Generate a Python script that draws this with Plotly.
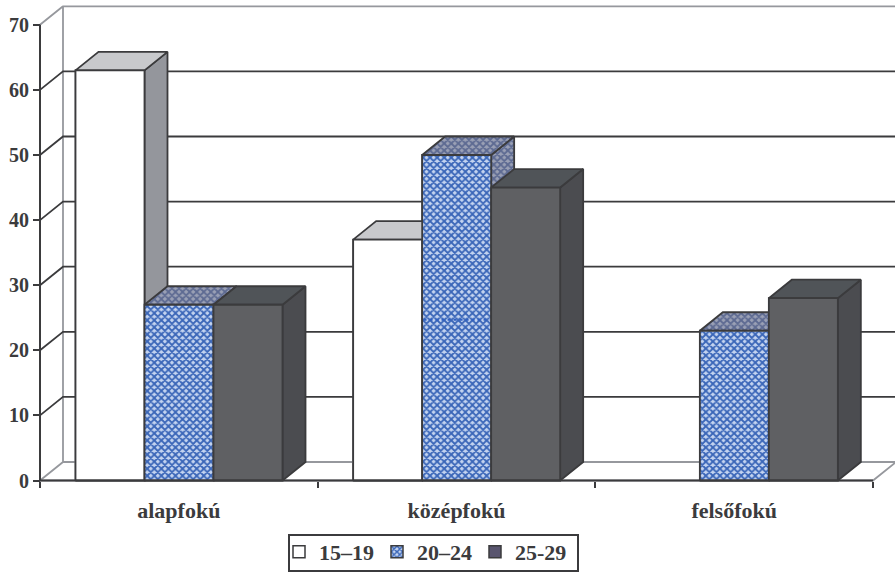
import plotly.graph_objects as go

categories = ["alapfokú", "középfokú", "felsőfokú"]
series_names = ["15–19", "20–24", "25-29"]
values_1519 = [63, 37, None]
values_2024 = [27, 50, 23]
values_2529 = [27, 45, 28]
y_ticks = [0, 10, 20, 30, 40, 50, 60, 70]
artefact_value = 24.7

W, H = 895, 572
PX_CAT = 277.67
PX_UNIT = 6.51
X0_PX, Y0_PX = 40, 480.5
DX = 23 / PX_CAT
DY = 18.5 / PX_UNIT
GAP = 35.5 / PX_CAT
BW = 69 / PX_CAT
INK = "#3b3b3d"
GREY = "#96989d"

def pat(fg, bg):
    return dict(shape="x", fgcolor=fg, bgcolor=bg, size=5, solidity=0.6, fillmode="replace")

styles = [
    dict(front="#ffffff", top="#c8c9cc", side="#94969c"),
    dict(front=pat("#3a66b8", "#c4d4f0"), top=pat("#5d6a92", "#9aa0b5"), side=pat("#5d6a92", "#9aa0b5")),
    dict(front="#5f6063", top="#505458", side="#4b4c50"),
]

fig = go.Figure()

legend_fill = [dict(color="#ffffff"), dict(color="#c4d4f0", pattern=pat("#3a66b8", "#c4d4f0")), dict(color="#59556f")]
for j, (name, vals) in enumerate(zip(series_names, [values_1519, values_2024, values_2529])):
    fig.add_trace(go.Bar(
        x=[i for i in range(3)], y=vals, name=name,
        width=BW, offset=GAP + j * BW,
        marker=dict(**legend_fill[j], line=dict(color=INK, width=1.5)),
        hoverinfo="skip",
    ))

def line(xs, ys, color=INK, width=1.8, dash=None):
    fig.add_trace(go.Scatter(x=xs, y=ys, mode="lines", showlegend=False, hoverinfo="skip",
                             line=dict(color=color, width=width, dash=dash)))

def face(xs, ys, fill):
    kw = dict(fillpattern=fill, fillcolor=fill["bgcolor"]) if isinstance(fill, dict) else dict(fillcolor=fill)
    fig.add_trace(go.Scatter(x=xs, y=ys, mode="lines", fill="toself", showlegend=False, hoverinfo="skip",
                             line=dict(color=INK, width=1.8), **kw))

top = y_ticks[-1]
n = len(categories)
line([0, DX, DX, 0], [top, top + DY, DY, 0], GREY, 1.8)
line([DX, n + DX, n, 0], [DY, DY, 0, 0], GREY, 1.8)
line([DX, n + DX + 1], [top + DY, top + DY], GREY, 1.8)
for t in y_ticks[1:-1]:
    line([0, DX, n + DX + 1], [t, t + DY, t + DY], INK, 1.8)

for i in range(n):
    for j, vals in enumerate([values_1519, values_2024, values_2529]):
        v = vals[i]
        if v is None:
            continue
        a = i + GAP + j * BW
        b = a + BW
        st = styles[j]
        face([b, b + DX, b + DX, b, b], [0, DY, v + DY, v, 0], st["side"])
        face([a, a + DX, b + DX, b, a], [v, v + DY, v + DY, v, v], st["top"])
        face([a, b, b, a, a], [0, 0, v, v, 0], st["front"])

a = 1 + GAP + BW
line([a + 0.005, a + BW - 0.005], [artefact_value, artefact_value], "#2f5fc0", 2, "dot")

line([0, 0], [0, top], INK, 2)
line([0, n], [0, 0], INK, 2)

L_PX, B_PX, T_PX = 27, 490, 2
fig.update_layout(
    width=W, height=H,
    margin=dict(l=0, r=0, t=0, b=0, autoexpand=False),
    paper_bgcolor="white", plot_bgcolor="white",
    barmode="overlay",
    font=dict(family="Liberation Serif", color=INK),
    xaxis=dict(
        domain=[L_PX / W, 1],
        range=[(L_PX - X0_PX) / PX_CAT, (W - X0_PX) / PX_CAT],
        anchor="free", position=(H - Y0_PX) / H,
        tickvals=[i + 0.5 for i in range(n)], ticktext=categories,
        ticks="", showline=False, showgrid=False, zeroline=False,
        tickfont=dict(size=22, family="Liberation Serif", weight="bold", color=INK),
        ticklabelstandoff=14,
        minor=dict(tickvals=list(range(n + 1)), ticks="outside", ticklen=6, tickwidth=2, tickcolor=INK, showgrid=False),
    ),
    yaxis=dict(
        domain=[(H - B_PX) / H, (H - T_PX) / H],
        range=[(Y0_PX - B_PX) / PX_UNIT, (Y0_PX - T_PX) / PX_UNIT],
        anchor="free", position=X0_PX / W,
        tickvals=y_ticks, ticks="outside", ticklen=7, tickwidth=2, tickcolor=INK,
        showline=False, showgrid=False, zeroline=False,
        tickfont=dict(size=20, family="Liberation Serif", weight="bold", color=INK),
    ),
    legend=dict(
        orientation="h", x=279 / W, y=1 - 531 / H, xanchor="left", yanchor="top",
        entrywidth=53, entrywidthmode="pixels",
        borderwidth=0, bgcolor="rgba(0,0,0,0)",
        font=dict(size=22, family="Liberation Serif", weight="bold", color=INK),
        itemclick=False, itemdoubleclick=False,
    ),
    shapes=[dict(type="rect", xref="paper", yref="paper", x0=289 / W, x1=578 / W,
                 y0=1 - 535 / H, y1=1 - 571 / H, line=dict(color=INK, width=2), layer="below")],
)

fig.write_html("out.html", post_script="document.body.style.margin='0';",
               config=dict(displayModeBar=False))
